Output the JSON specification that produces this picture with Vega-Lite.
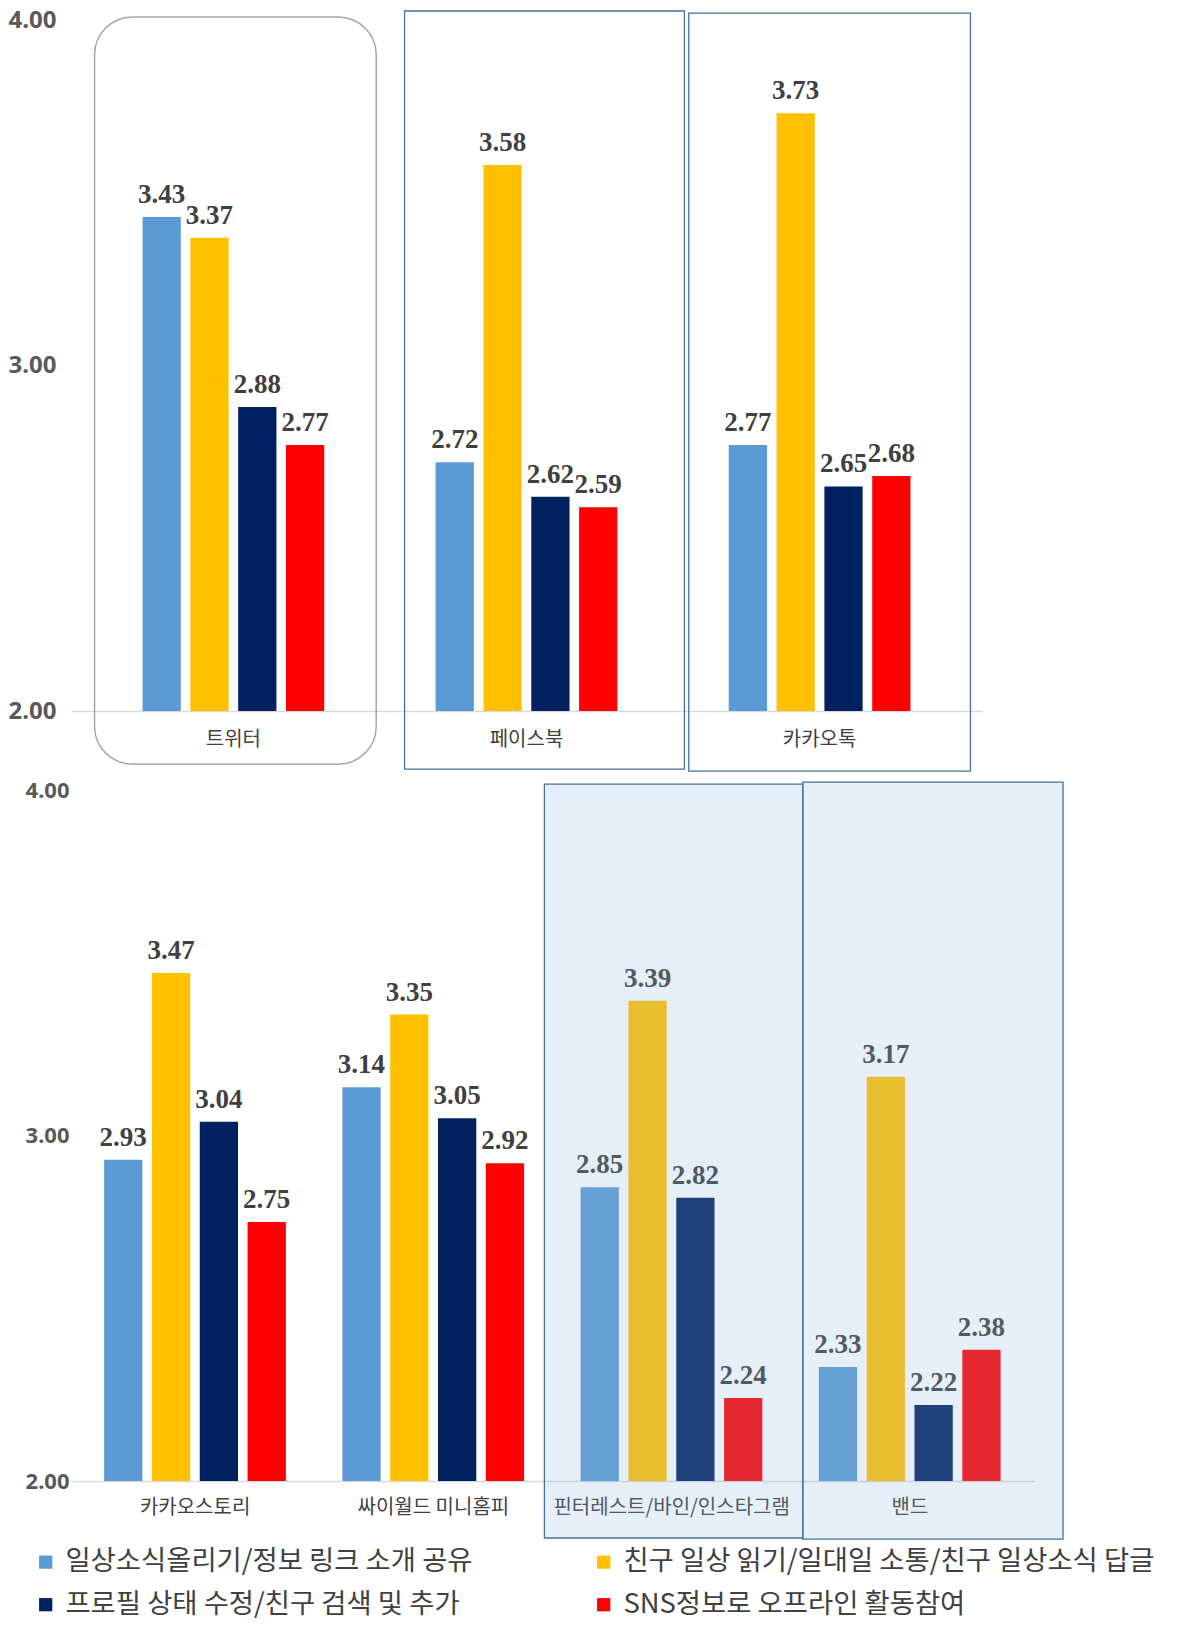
{
  "$schema": "https://vega.github.io/schema/vega-lite/v6.json",
  "background": "white",
  "padding": {"left": 8, "top": 8, "right": 5, "bottom": 5},
  "spacing": 7,
  "datasets": {
    "bars": [
      {"panel": "top", "platform": "트위터", "activity": "일상소식올리기/정보 링크 소개 공유", "value": 3.43},
      {"panel": "top", "platform": "트위터", "activity": "친구 일상 읽기/일대일 소통/친구 일상소식 답글", "value": 3.37},
      {"panel": "top", "platform": "트위터", "activity": "프로필 상태 수정/친구 검색 및 추가", "value": 2.88},
      {"panel": "top", "platform": "트위터", "activity": "SNS정보로 오프라인 활동참여", "value": 2.77},
      {"panel": "top", "platform": "페이스북", "activity": "일상소식올리기/정보 링크 소개 공유", "value": 2.72},
      {"panel": "top", "platform": "페이스북", "activity": "친구 일상 읽기/일대일 소통/친구 일상소식 답글", "value": 3.58},
      {"panel": "top", "platform": "페이스북", "activity": "프로필 상태 수정/친구 검색 및 추가", "value": 2.62},
      {"panel": "top", "platform": "페이스북", "activity": "SNS정보로 오프라인 활동참여", "value": 2.59},
      {"panel": "top", "platform": "카카오톡", "activity": "일상소식올리기/정보 링크 소개 공유", "value": 2.77},
      {"panel": "top", "platform": "카카오톡", "activity": "친구 일상 읽기/일대일 소통/친구 일상소식 답글", "value": 3.73},
      {"panel": "top", "platform": "카카오톡", "activity": "프로필 상태 수정/친구 검색 및 추가", "value": 2.65},
      {"panel": "top", "platform": "카카오톡", "activity": "SNS정보로 오프라인 활동참여", "value": 2.68},
      {"panel": "bottom", "platform": "카카오스토리", "activity": "일상소식올리기/정보 링크 소개 공유", "value": 2.93},
      {"panel": "bottom", "platform": "카카오스토리", "activity": "친구 일상 읽기/일대일 소통/친구 일상소식 답글", "value": 3.47},
      {"panel": "bottom", "platform": "카카오스토리", "activity": "프로필 상태 수정/친구 검색 및 추가", "value": 3.04},
      {"panel": "bottom", "platform": "카카오스토리", "activity": "SNS정보로 오프라인 활동참여", "value": 2.75},
      {"panel": "bottom", "platform": "싸이월드 미니홈피", "activity": "일상소식올리기/정보 링크 소개 공유", "value": 3.14},
      {"panel": "bottom", "platform": "싸이월드 미니홈피", "activity": "친구 일상 읽기/일대일 소통/친구 일상소식 답글", "value": 3.35},
      {"panel": "bottom", "platform": "싸이월드 미니홈피", "activity": "프로필 상태 수정/친구 검색 및 추가", "value": 3.05},
      {"panel": "bottom", "platform": "싸이월드 미니홈피", "activity": "SNS정보로 오프라인 활동참여", "value": 2.92},
      {"panel": "bottom", "platform": "핀터레스트/바인/인스타그램", "activity": "일상소식올리기/정보 링크 소개 공유", "value": 2.85},
      {"panel": "bottom", "platform": "핀터레스트/바인/인스타그램", "activity": "친구 일상 읽기/일대일 소통/친구 일상소식 답글", "value": 3.39},
      {"panel": "bottom", "platform": "핀터레스트/바인/인스타그램", "activity": "프로필 상태 수정/친구 검색 및 추가", "value": 2.82},
      {"panel": "bottom", "platform": "핀터레스트/바인/인스타그램", "activity": "SNS정보로 오프라인 활동참여", "value": 2.24},
      {"panel": "bottom", "platform": "밴드", "activity": "일상소식올리기/정보 링크 소개 공유", "value": 2.33},
      {"panel": "bottom", "platform": "밴드", "activity": "친구 일상 읽기/일대일 소통/친구 일상소식 답글", "value": 3.17},
      {"panel": "bottom", "platform": "밴드", "activity": "프로필 상태 수정/친구 검색 및 추가", "value": 2.22},
      {"panel": "bottom", "platform": "밴드", "activity": "SNS정보로 오프라인 활동참여", "value": 2.38}
    ]
  },
  "vconcat": [
    {
      "width": 911,
      "height": 691,
      "encoding": {
        "x": {
          "field": "platform", "type": "nominal", "title": null,
          "scale": {"domain": ["트위터", "페이스북", "카카오톡"], "paddingInner": 0.38, "paddingOuter": 0.244},
          "axis": {"labelAngle": 0, "ticks": false, "domainColor": "#D9D9D9", "domainWidth": 1.5, "labelFont": "Noto Sans CJK KR", "labelFontSize": 20, "labelColor": "#404040", "labelPadding": 18, "labelLimit": 400}
        }
      },
      "layer": [
        {
          "data": {"name": "bars"},
          "transform": [{"filter": "datum.panel === 'top'"}],
          "mark": {"type": "bar"},
          "encoding": {
            "xOffset": {"field": "activity", "type": "nominal", "scale": {"domain": ["일상소식올리기/정보 링크 소개 공유", "친구 일상 읽기/일대일 소통/친구 일상소식 답글", "프로필 상태 수정/친구 검색 및 추가", "SNS정보로 오프라인 활동참여"], "paddingInner": 0.2, "paddingOuter": 0}},
            "y": {"field": "value", "type": "quantitative", "title": null, "scale": {"domain": [2, 4], "nice": false, "zero": false},
              "axis": {"values": [2, 3, 4], "format": ".2f", "grid": false, "domain": false, "ticks": false, "labelFont": "Noto Sans", "labelFontWeight": "bold", "labelFontSize": 24, "labelColor": "#595959", "labelPadding": 15}},
            "y2": {"datum": 2},
            "color": {"field": "activity", "type": "nominal", "title": null,
              "scale": {"domain": ["일상소식올리기/정보 링크 소개 공유", "친구 일상 읽기/일대일 소통/친구 일상소식 답글", "프로필 상태 수정/친구 검색 및 추가", "SNS정보로 오프라인 활동참여"], "range": ["#5B9BD5", "#FFC000", "#002060", "#FF0000"]},
              "legend": {"orient": "none", "direction": "horizontal", "legendX": -39, "legendY": 1528, "columns": 2, "symbolType": "square", "symbolSize": 175, "symbolStrokeWidth": 0, "labelFont": "Noto Sans CJK KR", "labelFontSize": 27.4, "labelColor": "#404040", "labelLimit": 700, "rowPadding": 14, "columnPadding": 117, "labelOffset": 6}}
          }
        },
        {
          "data": {"name": "bars"},
          "transform": [{"filter": "datum.panel === 'top'"}],
          "mark": {"type": "text", "font": "Liberation Serif", "fontWeight": "bold", "fontSize": 27, "color": "#404040", "baseline": "alphabetic", "dy": -14},
          "encoding": {
            "xOffset": {"field": "activity", "type": "nominal"},
            "y": {"field": "value", "type": "quantitative"},
            "text": {"field": "value", "type": "quantitative", "format": ".2f"}
          }
        },
        {
          "data": {"values": [{"platform": "트위터"}]},
          "mark": {"type": "bar", "width": {"band": 1.55}, "xOffset": 2, "fillOpacity": 0, "stroke": "#A6A6A6", "strokeWidth": 1.5, "cornerRadius": 38, "clip": false},
          "encoding": {
            "y": {"datum": 4.009, "type": "quantitative"},
            "y2": {"datum": 1.846}
          }
        },
        {
          "data": {"values": [{"platform": "페이스북"}]},
          "mark": {"type": "bar", "width": {"band": 1.54}, "xOffset": 18, "fillOpacity": 0, "stroke": "#41719C", "strokeWidth": 1.3, "clip": false},
          "encoding": {
            "y": {"datum": 4.026, "type": "quantitative"},
            "y2": {"datum": 1.832}
          }
        },
        {
          "data": {"values": [{"platform": "카카오톡"}]},
          "mark": {"type": "bar", "width": {"band": 1.55}, "xOffset": 10, "fillOpacity": 0, "stroke": "#41719C", "strokeWidth": 1.3, "clip": false},
          "encoding": {
            "y": {"datum": 4.02, "type": "quantitative"},
            "y2": {"datum": 1.826}
          }
        }
      ]
    },
    {
      "width": 963,
      "height": 691,
      "encoding": {
        "x": {
          "field": "platform", "type": "nominal", "title": null,
          "scale": {"domain": ["카카오스토리", "싸이월드 미니홈피", "핀터레스트/바인/인스타그램", "밴드"], "paddingInner": 0.236, "paddingOuter": 0.139},
          "axis": {"labelAngle": 0, "ticks": false, "domainColor": "#D9D9D9", "domainWidth": 1.5, "labelFont": "Noto Sans CJK KR", "labelFontSize": 20, "labelColor": "#404040", "labelPadding": 16, "labelLimit": 400}
        }
      },
      "layer": [
        {
          "data": {"name": "bars"},
          "transform": [{"filter": "datum.panel === 'bottom'"}],
          "mark": {"type": "bar"},
          "encoding": {
            "xOffset": {"field": "activity", "type": "nominal", "scale": {"domain": ["일상소식올리기/정보 링크 소개 공유", "친구 일상 읽기/일대일 소통/친구 일상소식 답글", "프로필 상태 수정/친구 검색 및 추가", "SNS정보로 오프라인 활동참여"], "paddingInner": 0.2, "paddingOuter": 0}},
            "y": {"field": "value", "type": "quantitative", "title": null, "scale": {"domain": [2, 4], "nice": false, "zero": false},
              "axis": {"values": [2, 3, 4], "format": ".2f", "grid": false, "domain": false, "ticks": false, "labelFont": "Noto Sans", "labelFontWeight": "bold", "labelFontSize": 22, "labelColor": "#595959", "labelPadding": 2}},
            "y2": {"datum": 2},
            "color": {"field": "activity", "type": "nominal", "title": null,
              "scale": {"domain": ["일상소식올리기/정보 링크 소개 공유", "친구 일상 읽기/일대일 소통/친구 일상소식 답글", "프로필 상태 수정/친구 검색 및 추가", "SNS정보로 오프라인 활동참여"], "range": ["#5B9BD5", "#FFC000", "#002060", "#FF0000"]}}
          }
        },
        {
          "data": {"name": "bars"},
          "transform": [{"filter": "datum.panel === 'bottom'"}],
          "mark": {"type": "text", "font": "Liberation Serif", "fontWeight": "bold", "fontSize": 27, "color": "#404040", "baseline": "alphabetic", "dy": -14},
          "encoding": {
            "xOffset": {"field": "activity", "type": "nominal"},
            "y": {"field": "value", "type": "quantitative"},
            "text": {"field": "value", "type": "quantitative", "format": ".2f"}
          }
        },
        {
          "data": {"values": [{"platform": "핀터레스트/바인/인스타그램"}]},
          "mark": {"type": "bar", "width": {"band": 1.42}, "xOffset": 2, "fill": "#8FB4DC", "fillOpacity": 0.22, "stroke": "#41719C", "strokeWidth": 1.3, "clip": false},
          "encoding": {
            "y": {"datum": 4.017, "type": "quantitative"},
            "y2": {"datum": 1.835}
          }
        },
        {
          "data": {"values": [{"platform": "밴드"}]},
          "mark": {"type": "bar", "width": {"band": 1.43}, "xOffset": 23, "fill": "#8FB4DC", "fillOpacity": 0.22, "stroke": "#41719C", "strokeWidth": 1.3, "clip": false},
          "encoding": {
            "y": {"datum": 4.023, "type": "quantitative"},
            "y2": {"datum": 1.832}
          }
        }
      ]
    }
  ],
  "config": {
    "view": {"stroke": null}
  }
}
